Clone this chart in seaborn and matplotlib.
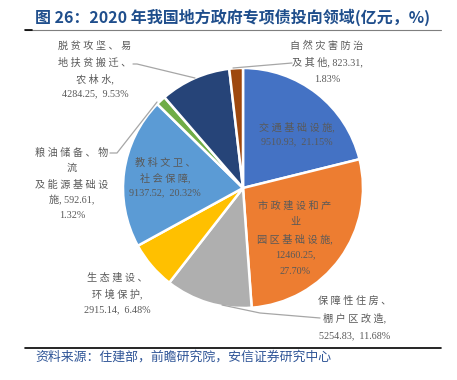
import matplotlib
matplotlib.use("Agg")
import matplotlib.pyplot as plt
import seaborn as sns
from matplotlib.lines import Line2D

sns.set_theme(style="white")
plt.rcParams['font.family'] = ['Liberation Serif', 'Noto Sans CJK SC', 'DejaVu Sans']

categories = ["交通基础设施", "市政建设和产业园区基础设施", "保障性住房、棚户区改造",
              "生态建设、环境保护", "教科文卫、社会保障", "粮油储备、物流及能源基础设施",
              "脱贫攻坚、易地扶贫搬迁、农林水", "自然灾害防治及其他"]
values = [9510.93, 12460.25, 5254.83, 2915.14, 9137.52, 592.61, 4284.25, 823.31]
shares = [21.15, 27.70, 11.68, 6.48, 20.32, 1.32, 9.53, 1.83]
colors = ["#4472C4", "#ED7D31", "#AFAFAF", "#FFC000", "#5B9BD5", "#70AD47", "#264478", "#9E480E"]

W, H = 457, 380
fig = plt.figure(figsize=(W / 100, H / 100), dpi=100)
cx, cy, r = 243, 188, 120
ax = fig.add_axes([(cx - r) / W, 1 - (cy + r) / H, 2 * r / W, 2 * r / H])
ax.pie(values, colors=colors, startangle=90, counterclock=False, radius=1,
       wedgeprops=dict(edgecolor="white", linewidth=1.8))
ax.set_xlim(-1, 1)
ax.set_ylim(-1, 1)
ax.set_aspect("equal")
ax.axis("off")

def fx(px):
    return px / W

def fy(py):
    return 1 - py / H

def spaced(t):
    out = ""
    for i, ch in enumerate(t):
        out += ch
        if i + 1 < len(t) and ord(ch) > 0x2E80 and ord(t[i + 1]) > 0x2E80:
            out += " "
    return out

lab_color = "#595959"
fs = 7.3

def lab(x, lines, color=lab_color):
    for t, y in lines:
        fig.text(fx(x), fy(y), spaced(t), ha="center", va="center", fontsize=fs, color=color)

# labels (order follows categories)
lab(297, [("交通基础设施,", 127), ("%.2f,  %.2f%%" % (values[0], shares[0]), 142)])
lab(295, [("市政建设和产", 206), ("业", 222), ("园区基础设施,", 239),
          ("%.2f," % values[1], 255), ("%.2f%%" % shares[1], 271)])
lab(355, [("保障性住房、", 301), ("棚户区改造,", 318), ("%.2f,  %.2f%%" % (values[2], shares[2]), 336)])
lab(117, [("生态建设、", 278), ("环境保护,", 294), ("%.2f,  %.2f%%" % (values[3], shares[3]), 310)])
lab(165, [("教科文卫、", 163), ("社会保障,", 178), ("%.2f,  %.2f%%" % (values[4], shares[4]), 193)])
lab(72, [("粮油储备、物", 153), ("流", 168), ("及能源基础设", 185),
         ("施, %.2f," % values[5], 200), ("%.2f%%" % shares[5], 216)])
lab(95, [("脱贫攻坚、易", 46), ("地扶贫搬迁、", 63), ("农林水,", 79),
         ("%.2f,  %.2f%%" % (values[6], shares[6]), 94)])
lab(327, [("自然灾害防治", 46), ("及其他, %.2f," % values[7], 62), ("%.2f%%" % shares[7], 79)])

lc = "#A6A6A6"
def leader(pts):
    fig.add_artist(Line2D([fx(p[0]) for p in pts], [fy(p[1]) for p in pts],
                          color=lc, linewidth=0.9))

leader([(133, 64), (137, 64), (195, 78)])
leader([(110, 153), (117, 153), (157, 102)])
leader([(233, 68), (292, 63)])
leader([(222, 305), (260, 313), (320, 318)])

# title
fig.text(fx(35), fy(17), "图 26：2020 年我国地方政府专项债投向领域(亿元，%)",
         ha="left", va="center", fontsize=11.5, fontweight="bold", color="#1F4E8C",
         family=['Noto Sans CJK SC', 'DejaVu Sans'])
fig.add_artist(Line2D([fx(25), fx(441)], [fy(30), fy(30)], color="#7F7F7F", linewidth=0.8))
fig.add_artist(Line2D([fx(25), fx(32)], [fy(30), fy(30)], color="#000000", linewidth=1.2))

# bottom rule and source
fig.add_artist(Line2D([fx(25), fx(441)], [fy(348), fy(348)], color="#000000", linewidth=1.2))
fig.text(fx(35), fy(357), "资料来源：住建部，前瞻研究院，安信证券研究中心",
         ha="left", va="center", fontsize=9.3, color="#2F5597", style="italic",
         family=['Noto Sans CJK SC', 'DejaVu Sans'])

fig.savefig("out.png", dpi=100, facecolor="white")
